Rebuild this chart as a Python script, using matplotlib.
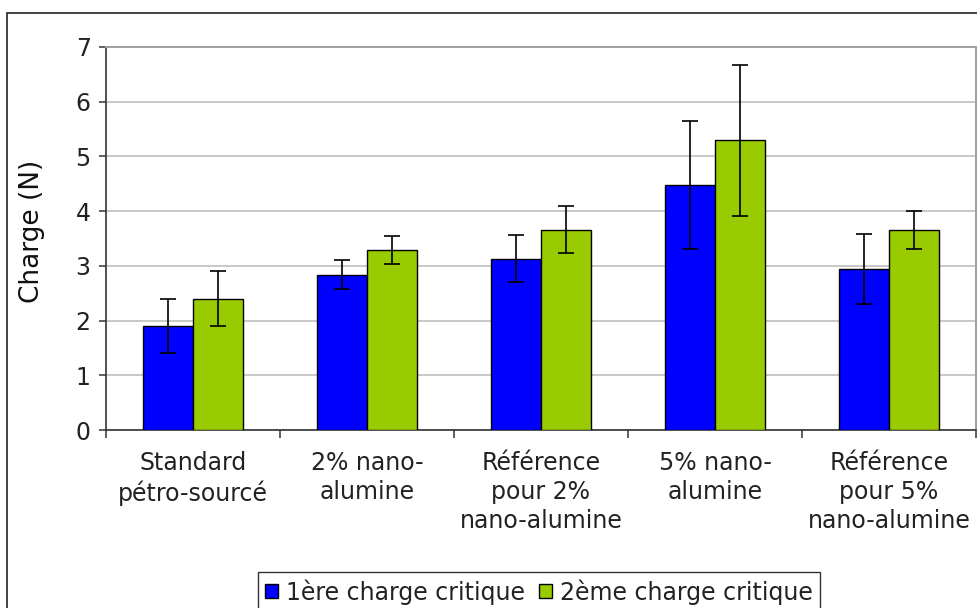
import matplotlib.pyplot as plt
from matplotlib.patches import Rectangle
import numpy as np

categories = [
    "Standard\npétro-sourcé",
    "2% nano-\nalumine",
    "Référence\npour 2%\nnano-alumine",
    "5% nano-\nalumine",
    "Référence\npour 5%\nnano-alumine",
]
serie_noms = ["1ère charge critique", "2ème charge critique"]
charge_1 = [1.90, 2.84, 3.13, 4.48, 2.94]
err_1 = [0.50, 0.26, 0.43, 1.17, 0.64]
charge_2 = [2.40, 3.29, 3.66, 5.30, 3.65]
err_2 = [0.50, 0.25, 0.43, 1.38, 0.35]
yticks = [0, 1, 2, 3, 4, 5, 6, 7]

BLEU = "#0000FF"
VERT = "#99CC00"

plt.rcParams["font.family"] = "DejaVu Sans"

fig = plt.figure(figsize=(9.78, 6.08), dpi=100)
ax = fig.add_axes([106 / 978, 1 - 430 / 608, 870 / 978, 383 / 608])

# cadre extérieur du graphique
fig.patches.append(Rectangle((7 / 978, -0.1), 1.2, 1 - 13 / 608 + 0.1,
                             transform=fig.transFigure, facecolor="none",
                             edgecolor="#222222", linewidth=1.2, zorder=0))

x = np.arange(len(categories))
w = 50 / 174
err_kw = dict(ecolor="black", elinewidth=1.2, capsize=6, capthick=1.2)
ax.bar(x - w / 2, charge_1, w, yerr=err_1, color=BLEU, edgecolor="black",
       linewidth=1, label=serie_noms[0], error_kw=err_kw, zorder=3)
ax.bar(x + w / 2, charge_2, w, yerr=err_2, color=VERT, edgecolor="black",
       linewidth=1, label=serie_noms[1], error_kw=err_kw, zorder=3)

ax.set_xlim(-0.5, len(categories) - 0.5)
ax.set_ylim(0, 7)
ax.set_yticks(yticks)
ax.set_yticklabels([str(t) for t in yticks], fontsize=17, color="#222222")
ax.yaxis.grid(True, color="#c8c8c8", linewidth=1.4, zorder=0)
ax.set_axisbelow(True)

ax.set_xticks(np.arange(len(categories) + 1) - 0.5)
ax.set_xticklabels([])
ax.set_xticks(x, minor=True)
ax.set_xticklabels(categories, minor=True, fontsize=17, color="#222222",
                   linespacing=1.27)
ax.tick_params(axis="x", which="minor", length=0, pad=15)
ax.tick_params(axis="x", which="major", length=6, width=1.1, color="#333333")
ax.tick_params(axis="y", length=5, width=1.1, color="#333333", pad=6)

ax.set_ylabel("Charge (N)", fontsize=19, color="#111111", labelpad=22)
ax.yaxis.label.set_y((430 - 231) / 383)

for s in ["top", "right"]:
    ax.spines[s].set_color("#a0a0a0")
    ax.spines[s].set_linewidth(1.4)
for s in ["left", "bottom"]:
    ax.spines[s].set_color("#333333")
    ax.spines[s].set_linewidth(1.2)

leg = fig.legend(loc="upper center", bbox_to_anchor=(539 / 978, 1 - 572 / 608),
                 ncol=2, fontsize=17, frameon=True, fancybox=False,
                 handlelength=0.55, handleheight=0.55, handletextpad=0.35,
                 columnspacing=0.6, borderpad=0.3, borderaxespad=0)
leg.get_frame().set_edgecolor("black")
leg.get_frame().set_linewidth(1.0)
for t in leg.get_texts():
    t.set_color("#222222")

fig.savefig("out.png", dpi=100)
